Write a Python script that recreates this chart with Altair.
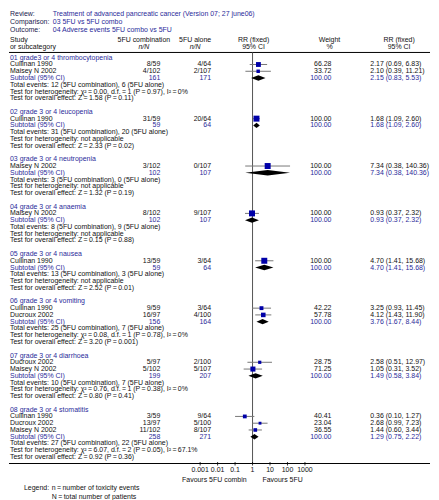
import altair as alt
import pandas as pd

# ---------------- data ----------------
review_labels = ["Review:", "Comparison:", "Outcome:"]
review_values = ["Treatment of advanced pancreatic cancer (Version 07; 27 june06)",
                 "03 5FU vs 5FU combo",
                 "04 Adverse events 5FU combo vs 5FU"]

group_names = ["01 grade3 or 4 thrombocytopenia", "02 grade 3 or 4 leucopenia",
               "03 grade 3 or 4 neutropenia", "04 grade 3 or 4 anaemia",
               "05 grade 3 or 4 nausea", "06 grade 3 or 4 vomiting",
               "07 grade 3 or 4 diarrhoea", "08 grade 3 or 4 stomatitis"]

study_group = [0, 0, 1, 2, 3, 4, 5, 5, 6, 6, 7, 7, 7]
study_name = ["Cullinan 1990", "Maisey N 2002", "Cullinan 1990", "Maisey N 2002",
              "Maisey N 2002", "Cullinan 1990", "Cullinan 1990", "Ducroux 2002",
              "Ducroux 2002", "Maisey N 2002", "Cullinan 1990", "Ducroux 2002",
              "Maisey N 2002"]
events_comb = [8, 4, 31, 3, 8, 13, 9, 16, 5, 5, 3, 13, 11]
total_comb = [59, 102, 59, 102, 102, 59, 59, 97, 97, 102, 59, 97, 102]
events_alone = [4, 2, 20, 0, 9, 3, 3, 4, 2, 5, 9, 5, 8]
total_alone = [64, 107, 64, 107, 107, 64, 64, 100, 100, 107, 64, 100, 107]
study_weight = [66.28, 33.72, 100.00, 100.00, 100.00, 100.00, 42.22, 57.78,
                28.75, 71.25, 40.41, 23.04, 36.55]
study_rr = [2.17, 2.10, 1.68, 7.34, 0.93, 4.70, 3.25, 4.12, 2.58, 1.05, 0.36, 2.68, 1.44]
study_lo = [0.69, 0.39, 1.09, 0.38, 0.37, 1.41, 0.93, 1.43, 0.51, 0.31, 0.10, 0.99, 0.60]
study_hi = [6.83, 11.21, 2.60, 140.36, 2.32, 15.68, 11.45, 11.90, 12.97, 3.52, 1.27, 7.23, 3.44]

sub_n_comb = [161, 59, 102, 102, 59, 156, 199, 258]
sub_n_alone = [171, 64, 107, 107, 64, 164, 207, 271]
sub_rr = [2.15, 1.68, 7.34, 0.93, 4.70, 3.76, 1.49, 1.29]
sub_lo = [0.83, 1.09, 0.38, 0.37, 1.41, 1.67, 0.58, 0.75]
sub_hi = [5.53, 2.60, 140.36, 2.32, 15.68, 8.44, 3.84, 2.22]
tot_events_comb = [12, 31, 3, 8, 13, 25, 10, 27]
tot_events_alone = [6, 20, 0, 9, 3, 7, 7, 22]
T = "\u2009"
het_text = [f"χ²{T}={T}0.00, d.f.{T}={T}1 (P{T}={T}0.97), I²{T}={T}0%", "not applicable",
            "not applicable", "not applicable", "not applicable",
            f"χ²{T}={T}0.08, d.f.{T}={T}1 (P{T}={T}0.78), I²{T}={T}0%",
            f"χ²{T}={T}0.76, d.f.{T}={T}1 (P{T}={T}0.38), I²{T}={T}0%",
            f"χ²{T}={T}6.07, d.f.{T}={T}2 (P{T}={T}0.05), I²{T}={T}67.1%"]
z_values = ["1.58", "2.33", "1.32", "0.15", "2.52", "3.20", "0.80", "0.92"]
z_p = ["0.11", "0.02", "0.19", "0.88", "0.01", "0.001", "0.41", "0.36"]

axis_ticks = [0.001, 0.01, 0.1, 1, 10, 100, 1000]
axis_labels = ["0.001", "0.01", "0.1", "1", "10", "100", "1000"]
favours = ["Favours 5FU combin", "Favours 5FU"]
legend_lines = ["Legend:", f"n{T}={T}number of toxicity events", f"N{T}={T}total number of patients"]

# ---------------- layout / style ----------------
W, H = 423, 455.5
Y0, ROW = 47.8, 6.8
TOP_LINE = 42.5
FONT = "Liberation Sans"
FS = 7.0
BLUE = "#2b2b9a"
BLACK = "#111111"
SQ = "#0000a8"
X_LABEL, X_C1, X_C2, X_W, X_RR = 1, 152, 203, 324, 363
X_TITLE_VAL = 44
X_ONE = 244.7
DEC = 17.55
xs = alt.Scale(type="log", domain=[0.001, 1000], range=[X_ONE - 3 * DEC, X_ONE + 3 * DEC])


def fmt_rr(r, l, h):
    return f"{r:.2f} ({l:.2f}, {h:.2f})"


rows = []
study_pts = []
diamond_pts = []
slot = 0
for g, gname in enumerate(group_names):
    y = lambda s: Y0 + s * ROW
    rows.append(dict(y=y(slot), label=gname, c1="", c2="", w="", rr="", col=BLUE))
    slot += 1
    for i, sg in enumerate(study_group):
        if sg != g:
            continue
        rows.append(dict(y=y(slot), label=study_name[i],
                         c1=f"{events_comb[i]}/{total_comb[i]}",
                         c2=f"{events_alone[i]}/{total_alone[i]}",
                         w=f"{study_weight[i]:.2f}",
                         rr=fmt_rr(study_rr[i], study_lo[i], study_hi[i]), col=BLACK))
        study_pts.append(dict(y=y(slot), rr=study_rr[i], lo=study_lo[i],
                              hi=study_hi[i], wt=study_weight[i]))
        slot += 1
    rows.append(dict(y=y(slot), label="Subtotal (95% CI)", c1=str(sub_n_comb[g]),
                     c2=str(sub_n_alone[g]), w="100.00",
                     rr=fmt_rr(sub_rr[g], sub_lo[g], sub_hi[g]), col=BLUE))
    yc = y(slot)
    for xv, dy in [(sub_lo[g], 0.0), (sub_rr[g], 2.7), (sub_hi[g], 0.0)]:
        diamond_pts.append(dict(g=g, x=xv, yt=yc - dy, yb=yc + dy))
    slot += 1
    rows.append(dict(y=y(slot), label=f"Total events: {tot_events_comb[g]} (5FU combination), "
                                       f"{tot_events_alone[g]} (5FU alone)",
                     c1="", c2="", w="", rr="", col=BLACK))
    slot += 1
    rows.append(dict(y=y(slot), label=f"Test for heterogeneity: {het_text[g]}",
                     c1="", c2="", w="", rr="", col=BLACK))
    slot += 1
    rows.append(dict(y=y(slot), label=f"Test for overall effect: Z{T}={T}{z_values[g]} (P{T}={T}{z_p[g]})",
                     c1="", c2="", w="", rr="", col=BLACK))
    slot += 2

rows_df = pd.DataFrame(rows)
study_df = pd.DataFrame(study_pts)
diamond_df = pd.DataFrame(diamond_pts)
ticks_df = pd.DataFrame(dict(v=axis_ticks, t=axis_labels))

Yid = lambda f: alt.Y(f, scale=None)


def col_text(field, xpos, align):
    return alt.Chart(rows_df).mark_text(align=align, baseline="middle", font=FONT,
                                        fontSize=FS).encode(
        x=alt.value(xpos), y=Yid("y:Q"), text=f"{field}:N",
        color=alt.Color("col:N", scale=None))


# header / title texts
title_df = pd.DataFrame(dict(y=[3.9, 11.9, 19.9], lab=review_labels, val=review_values))
title_lab = alt.Chart(title_df).mark_text(align="left", baseline="middle", font=FONT,
                                          fontSize=FS, color="#1a1a4d").encode(
    x=alt.value(X_LABEL), y=Yid("y:Q"), text="lab:N")
title_val = alt.Chart(title_df).mark_text(align="left", baseline="middle", font=FONT,
                                          fontSize=FS, color=BLUE).encode(
    x=alt.value(X_TITLE_VAL), y=Yid("y:Q"), text="val:N")

head_df = pd.DataFrame(dict(
    x=[X_LABEL, X_LABEL, 135.5, 135.5, 187, 187, 245.7, 245.7, 322, 322, 392, 392],
    y=[29.5, 37.0] * 6,
    t=["Study", "or subcategory", "5FU combination", "n/N", "5FU alone", "n/N",
       "RR (fixed)", "95% CI", "Weight", "%", "RR (fixed)", "95% CI"],
    a=["left", "left"] + ["center"] * 10,
    it=["normal", "normal", "normal", "italic", "normal", "italic"] + ["normal"] * 6))
head_left = alt.Chart(head_df[head_df.a == "left"]).mark_text(
    align="left", baseline="middle", font=FONT, fontSize=FS, color=BLACK).encode(
    x=alt.X("x:Q", scale=None), y=Yid("y:Q"), text="t:N")
head_c = alt.Chart(head_df[(head_df.a == "center") & (head_df.it == "normal")]).mark_text(
    align="center", baseline="middle", font=FONT, fontSize=FS, color=BLACK).encode(
    x=alt.X("x:Q", scale=None), y=Yid("y:Q"), text="t:N")
head_i = alt.Chart(head_df[head_df.it == "italic"]).mark_text(
    align="center", baseline="middle", font=FONT, fontSize=FS, color=BLACK,
    fontStyle="italic").encode(
    x=alt.X("x:Q", scale=None), y=Yid("y:Q"), text="t:N")

hlines = alt.Chart(pd.DataFrame(dict(y=[TOP_LINE, H]))).mark_rule(
    color="#000000", strokeWidth=1).encode(
    x=alt.value(0), x2=alt.value(W), y=Yid("y:Q"))

vline = alt.Chart(pd.DataFrame(dict(one=[1]))).mark_rule(
    color="#555555", strokeWidth=1).encode(
    x=alt.X("one:Q", scale=xs, axis=None), y=alt.value(TOP_LINE), y2=alt.value(H))

tick_marks = alt.Chart(ticks_df).mark_rule(color="#000000", strokeWidth=0.8).encode(
    x=alt.X("v:Q", scale=xs, axis=None), y=alt.value(H - 1.5), y2=alt.value(H + 2))
tick_text = alt.Chart(ticks_df).mark_text(
    align="center", baseline="middle", font=FONT, fontSize=FS, color=BLACK).encode(
    x=alt.X("v:Q", scale=xs, axis=None), y=alt.value(H + 7), text="t:N")

ci = alt.Chart(study_df).mark_rule(color="#777777", strokeWidth=1).encode(
    x=alt.X("lo:Q", scale=xs, axis=None), x2="hi:Q", y=Yid("y:Q"))
squares = alt.Chart(study_df).mark_point(shape="square", filled=True, opacity=1,
                                         color=SQ).encode(
    x=alt.X("rr:Q", scale=xs, axis=None), y=Yid("y:Q"),
    size=alt.Size("wt:Q", scale=alt.Scale(domain=[0, 100], range=[0, 36]), legend=None))
diamonds = alt.Chart(diamond_df).mark_area(color="#000000", opacity=1).encode(
    x=alt.X("x:Q", scale=xs, axis=None), y=Yid("yt:Q"), y2="yb:Q", detail="g:N")

fav_df = pd.DataFrame(dict(t=favours, x=[X_ONE - 6, X_ONE + 10], a=["right", "left"]))
fav_l = alt.Chart(fav_df[fav_df.a == "right"]).mark_text(
    align="right", baseline="middle", font=FONT, fontSize=FS, color=BLACK).encode(
    x=alt.X("x:Q", scale=None), y=alt.value(H + 16.5), text="t:N")
fav_r = alt.Chart(fav_df[fav_df.a == "left"]).mark_text(
    align="left", baseline="middle", font=FONT, fontSize=FS, color=BLACK).encode(
    x=alt.X("x:Q", scale=None), y=alt.value(H + 16.5), text="t:N")

leg_df = pd.DataFrame(dict(t=legend_lines, x=[15, 43, 43], y=[480, 480, 489]))
legend = alt.Chart(leg_df).mark_text(
    align="left", baseline="middle", font=FONT, fontSize=FS, color=BLACK).encode(
    x=alt.X("x:Q", scale=None), y=Yid("y:Q"), text="t:N")

chart = alt.layer(
    hlines, vline, tick_marks, tick_text, ci, diamonds, squares,
    title_lab, title_val, head_left, head_c, head_i,
    col_text("label", X_LABEL, "left"), col_text("c1", X_C1, "right"),
    col_text("c2", X_C2, "right"), col_text("w", X_W, "right"),
    col_text("rr", X_RR, "left"),
    fav_l, fav_r, legend
).properties(width=W, height=H, padding=0).configure_view(stroke=None)

chart.save("out.html", embed_options={"renderer": "svg", "actions": False})
